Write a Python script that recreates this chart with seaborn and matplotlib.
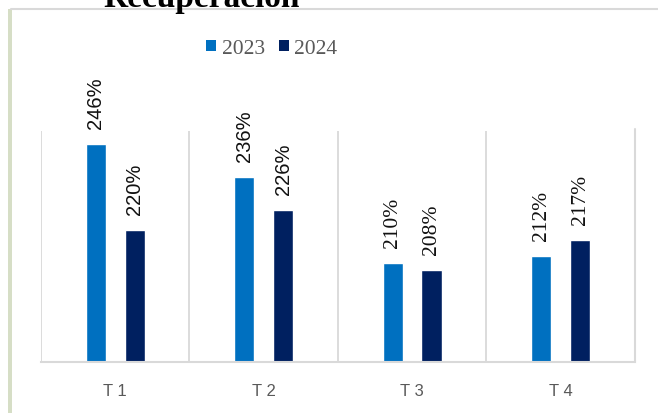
import pandas as pd
import numpy as np
import matplotlib
matplotlib.use("Agg")
import matplotlib.pyplot as plt
from matplotlib.patches import Patch, Rectangle
from matplotlib.lines import Line2D
import seaborn as sns

# Data
quarters = ["T 1", "T 2", "T 3", "T 4"]
values_2023 = [246, 236, 210, 212]
values_2024 = [220, 226, 208, 217]
years = ["2023", "2024"]
colors = {"2023": "#0070C0", "2024": "#002060"}
title_text = "Recuperación"

df = pd.DataFrame({
    "quarter": quarters * 2,
    "year": ["2023"] * 4 + ["2024"] * 4,
    "value": values_2023 + values_2024,
})

sns.set_theme(style="white")
plt.rcParams["font.family"] = ["Liberation Sans", "DejaVu Sans"]

fig = plt.figure(figsize=(6.58, 4.14), dpi=100)
ax = fig.add_axes([0.0623, 0.1232, 0.9027, 0.5578])

sns.barplot(data=df, x="quarter", y="value", hue="year", palette=colors,
            width=0.52, gap=0.48, ax=ax, legend=False, saturation=1)

ax.set_ylim(180, 250)
ax.set_xlim(-0.5, 3.5)
ax.set_xlabel("")
ax.set_ylabel("")
ax.set_yticks([])

# vertical category gridlines
ax.set_xticks(np.arange(-0.5, 4.0, 1.0), minor=True)
ax.grid(True, axis="x", which="minor", color="#D9D9D9", linewidth=1.3)
ax.grid(False, axis="x", which="major")
ax.tick_params(axis="x", which="both", length=0)
ax.tick_params(axis="x", which="major", pad=15, labelsize=12, labelcolor="#595959")

for s in ["top", "left", "right"]:
    ax.spines[s].set_visible(False)
ax.spines["bottom"].set_color("#D9D9D9")
ax.spines["bottom"].set_linewidth(1.5)

# data labels (the first two quarters use a sans face, the last two a serif face)
for container in ax.containers:
    for i, bar in enumerate(container):
        h = bar.get_height()
        if i < 2:
            fam, size = ["Liberation Sans", "DejaVu Sans"], 14.5
        else:
            fam, size = ["Liberation Serif", "DejaVu Serif"], 15.5
        ax.annotate(f"{h:.0f}%", (bar.get_x() + bar.get_width() / 2, h),
                    xytext=(0, 11.5), textcoords="offset points",
                    rotation=90, ha="center", va="bottom", family=fam,
                    fontsize=size, color="#111111", annotation_clip=False)

# legend
handles = [Patch(facecolor=colors[y], edgecolor="none") for y in years]
fig.legend(handles, years, loc="center", bbox_to_anchor=(0.413, 0.88), ncol=2,
           frameon=False, handlelength=0.47, handleheight=0.47, handletextpad=0.25,
           columnspacing=0.65, prop={"family": ["Liberation Serif", "DejaVu Serif"], "size": 15.5},
           labelcolor="#595959")

# chart frame pieces
fig.add_artist(Line2D([11 / 658, 1.0], [1 - 10 / 414, 1 - 10 / 414],
                      transform=fig.transFigure, color="#D9D9D9", linewidth=1.5))
fig.add_artist(Rectangle((8 / 658, 0), 4 / 658, 1 - 10 / 414, transform=fig.transFigure,
                         facecolor="#D6DEC6", edgecolor="none"))
fig.add_artist(Line2D([635 / 658, 635 / 658], [1 - 363 / 414, 1 - 130 / 414],
                      transform=fig.transFigure, color="#D9D9D9", linewidth=1.5))

# title, cut off at the top edge as in the source image
fig.text(0.307, 1 - 7 / 414, title_text, ha="center", va="baseline", fontsize=24,
         fontweight="bold", family=["Liberation Serif", "DejaVu Serif"], color="black")

fig.savefig("out.png", dpi=100)
plt.close(fig)
